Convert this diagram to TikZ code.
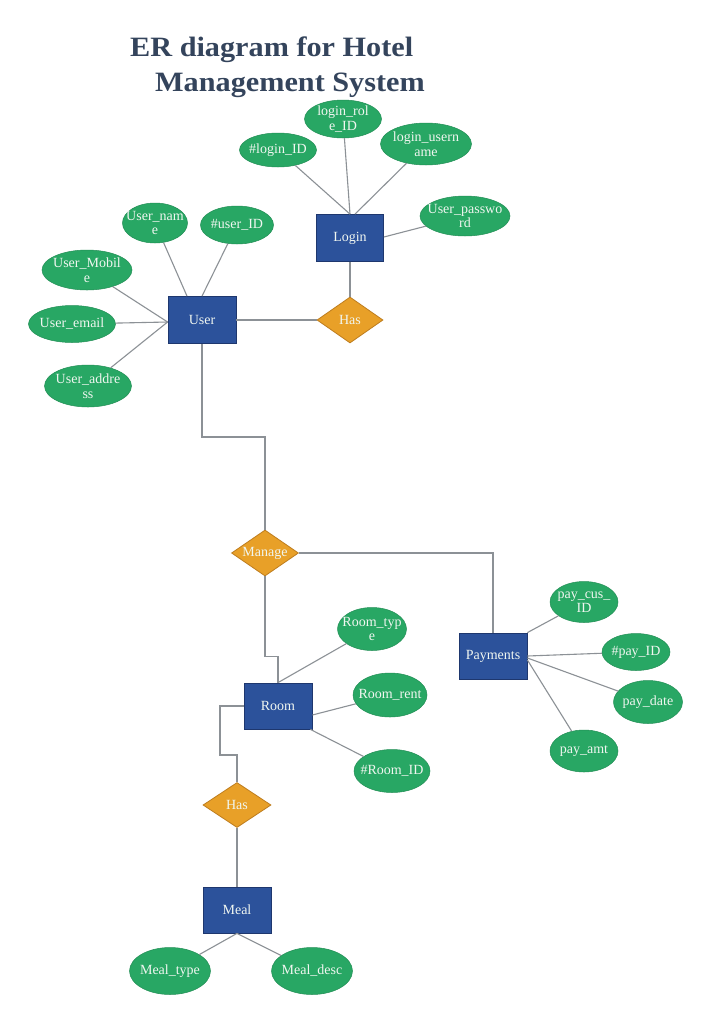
\documentclass[tikz,border=0pt]{standalone}
\usepackage{fontspec}
\setmainfont{Liberation Serif}
\usetikzlibrary{shapes.geometric,calc}
\definecolor{attrgreen}{RGB}{40,167,100}
\definecolor{entblue}{RGB}{44,82,155}
\definecolor{entborder}{RGB}{30,55,110}
\definecolor{relorange}{RGB}{232,160,40}
\definecolor{relborder}{RGB}{190,125,30}
\definecolor{linegray}{RGB}{140,145,150}
\definecolor{titlecol}{RGB}{52,68,92}
\definecolor{txtwhite}{RGB}{240,246,240}
\tikzset{
  entity/.style={rectangle, fill=entblue, draw=entborder, line width=0.8pt, minimum width=68pt, minimum height=46pt, inner sep=0pt, text=txtwhite, font=\fontsize{14}{15}\selectfont},
  attr/.style={ellipse, fill=attrgreen, draw=attrgreen!85!black, line width=0.5pt, inner xsep=-12pt, inner ysep=-6pt, text=txtwhite, align=center, font=\fontsize{14}{14.5}\selectfont},
  rel/.style={diamond, fill=relorange, draw=relborder, line width=0.8pt, minimum width=67pt, minimum height=46pt, inner sep=0pt, aspect=1.45, text=txtwhite, font=\fontsize{14}{15}\selectfont},
  conn/.style={draw=linegray, line width=1.1pt},
  titletext/.style={anchor=base west, text=titlecol, font=\fontsize{28}{30}\selectfont\bfseries, inner sep=0pt}
}
\begin{document}
\begin{tikzpicture}[x=1pt,y=-1pt]
\useasboundingbox[fill=white] (0,0) rectangle (720,1034);
% title
\node[titletext] (t1) at (130,56) {\scalebox{1.08}[1]{ER diagram for Hotel}};
\node[titletext] (t2) at (155,91) {\scalebox{1.08}[1]{Management System}};
% connector helper coordinates
\coordinate (um) at (202,437);
\coordinate (rh) at (220,755);
% entities
\node[entity, minimum width=67pt, minimum height=47pt] (login) at (350,238) {Login};
\node[entity, minimum height=47pt] (user) at (202,320) {User};
\node[entity] (payments) at (493,656) {Payments};
\node[entity] (room) at (278,706) {Room};
\node[entity] (meal) at (237,910) {Meal};
% relationships
\node[rel, minimum width=66pt] (has1) at (350,320) {Has};
\node[rel] (manage) at (265,553) {Manage};
\node[rel, minimum width=68pt, minimum height=45pt] (has2) at (237,805) {Has};
% login attributes
\node[attr, minimum width=77pt, minimum height=34pt] (lid) at (278,150) {\#login\_ID};
\node[attr, minimum width=77pt, minimum height=38pt] (lrole) at (343,119) {login\_rol\\e\_ID};
\node[attr, minimum width=91pt, minimum height=42pt] (luser) at (426,144) {login\_usern\\ame};
\node[attr, minimum width=90pt, minimum height=40pt] (lpass) at (465,216) {User\_passwo\\rd};
% user attributes
\node[attr, minimum width=65pt, minimum height=40pt] (uname) at (155,223) {User\_nam\\e};
\node[attr, minimum width=73pt, minimum height=38pt] (uid) at (237,225) {\#user\_ID};
\node[attr, minimum width=90pt, minimum height=40pt] (umob) at (87,270) {User\_Mobil\\e};
\node[attr, minimum width=87pt, minimum height=37pt] (uemail) at (72,324) {User\_email};
\node[attr, minimum width=87pt, minimum height=42pt] (uaddr) at (88,386) {User\_addre\\ss};
% room attributes
\node[attr, minimum width=69pt, minimum height=43pt] (rtype) at (372,629) {Room\_typ\\e};
\node[attr, minimum width=74pt, minimum height=44pt] (rrent) at (390,695) {Room\_rent};
\node[attr, minimum width=76pt, minimum height=43pt] (rid) at (392,771) {\#Room\_ID};
% payment attributes
\node[attr, minimum width=68pt, minimum height=41pt] (pcus) at (584,602) {pay\_cus\_\\ID};
\node[attr, minimum width=68pt, minimum height=37pt] (pid) at (636,652) {\#pay\_ID};
\node[attr, minimum width=69pt, minimum height=43pt] (pdate) at (648,702) {pay\_date};
\node[attr, minimum width=68pt, minimum height=42pt] (pamt) at (584,751) {pay\_amt};
% meal attributes
\node[attr, minimum width=81pt, minimum height=47pt] (mtype) at (170,971) {Meal\_type};
\node[attr, minimum width=81pt, minimum height=47pt] (mdesc) at (312,971) {Meal\_desc};
% connectors
\draw[conn] (lid) -- (login.north);
\draw[conn] (lrole) -- (login.north);
\draw[conn] (luser) -- ($(login.north)+(5,0)$);
\draw[conn] (lpass) -- ($(login.east)+(0,-1)$);
\draw[conn] (login) -- (has1);
\draw[conn] (user) -- (has1);
\draw[conn] (uname) -- ($(user.north)+(-15,0)$);
\draw[conn] (uid) -- (user.north);
\draw[conn] (umob) -- ($(user.west)+(0,2)$);
\draw[conn] (uemail) -- ($(user.west)+(0,2)$);
\draw[conn] (uaddr) -- ($(user.west)+(0,2)$);
\draw[conn] (user.south) -- (um) -| (manage.north);
\draw[conn] (manage.east) -| (payments.north);
\draw[conn] (manage.south) |- ($(room.north)+(0,-26)$) -- (room.north);
\draw[conn] (room.west) -| (rh) -| (has2.north);
\draw[conn] (has2) -- (meal);
\draw[conn] (rtype) -- (room.north);
\draw[conn] (rrent) -- ($(room.east)+(0,9)$);
\draw[conn] (rid) -- ($(room.south east)+(-2,0)$);
\draw[conn] (pcus) -- (payments.north east);
\draw[conn] (pid) -- (payments.east);
\draw[conn] (pdate) -- ($(payments.east)+(0,2)$);
\draw[conn] (pamt) -- ($(payments.east)+(0,4)$);
\draw[conn] (mtype) -- (meal.south);
\draw[conn] (mdesc) -- (meal.south);
\end{tikzpicture}
\end{document}
